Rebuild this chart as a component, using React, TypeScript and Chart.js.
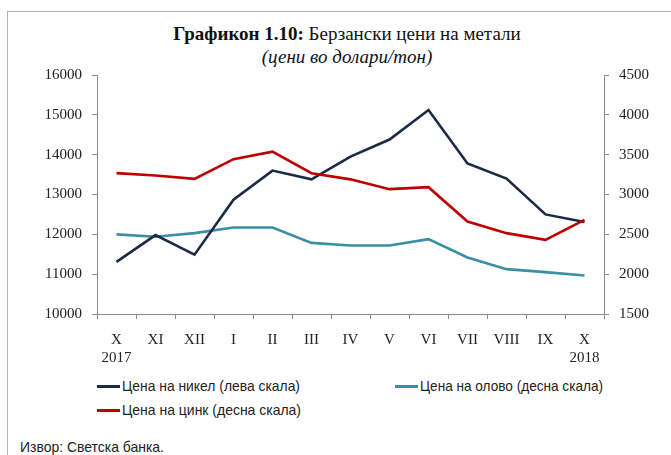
import React, { useEffect, useLayoutEffect, useRef } from "react";
import { Chart, registerables } from "chart.js";

Chart.register(...registerables);

const months = [
  ["X", "2017"], ["XI"], ["XII"], ["I"], ["II"], ["III"], ["IV"], ["V"], ["VI"], ["VII"], ["VIII"], ["IX"], ["X", "2018"],
];
const nickel = [11310, 11980, 11490, 12870, 13600, 13380, 13950, 14380, 15120, 13780, 13400, 12500, 12310];
const tin = [2500, 2470, 2515, 2585, 2585, 2393, 2360, 2360, 2440, 2209, 2063, 2026, 1983];
const zinc = [3268, 3238, 3196, 3443, 3538, 3267, 3190, 3067, 3092, 2660, 2515, 2431, 2682];

const leftTicks = { min: 10000, max: 16000, step: 1000 };
const rightTicks = { min: 1500, max: 4500, step: 500 };

const NAVY = "#1b2b45";
const TEAL = "#3b8fa3";
const RED = "#c00000";
const AXIS = "#8c8c8c";
const serif = "'Liberation Serif', 'DejaVu Serif', serif";
const sans = "'Liberation Sans', 'DejaVu Sans', sans-serif";

function FitText({ text, width, left, top, size }: { text: string; width: number; left: number; top: number; size: number }) {
  const r = useRef<HTMLSpanElement>(null);
  useLayoutEffect(() => {
    const el = r.current;
    if (!el) return;
    el.style.transform = "none";
    const w = el.getBoundingClientRect().width;
    if (w > 0) el.style.transform = `scaleX(${width / w})`;
  }, [text, width]);
  return (
    <span
      ref={r}
      style={{ position: "absolute", left, top, fontFamily: sans, fontSize: size, color: "#222", lineHeight: "18px", whiteSpace: "nowrap", transformOrigin: "0 0", display: "inline-block" }}
    >
      {text}
    </span>
  );
}

export default function App() {
  const ref = useRef<HTMLCanvasElement>(null);
  useEffect(() => {
    if (!ref.current) return;
    const tickFont = { family: serif, size: 15 };
    const chart = new Chart(ref.current, {
      type: "line",
      data: {
        labels: months,
        datasets: [
          { label: "Цена на никел (лева скала)", data: nickel, borderColor: NAVY, backgroundColor: NAVY, yAxisID: "y", order: 1 },
          { label: "Цена на олово (десна скала)", data: tin, borderColor: TEAL, backgroundColor: TEAL, yAxisID: "y1", order: 2 },
          { label: "Цена на цинк (десна скала)", data: zinc, borderColor: RED, backgroundColor: RED, yAxisID: "y1", order: 0 },
        ],
      },
      options: {
        animation: false,
        responsive: false,
        maintainAspectRatio: false,
        elements: { line: { borderWidth: 2.6, tension: 0 }, point: { radius: 0 } },
        layout: { padding: { top: 15, left: 0, right: 0, bottom: 0 } },
        plugins: { legend: { display: false }, title: { display: false }, tooltip: { enabled: false } },
        scales: {
          x: {
            offset: true,
            grid: { display: true, offset: true, drawOnChartArea: false, tickLength: 5, color: AXIS },
            border: { color: AXIS },
            ticks: { font: tickFont, color: "#222", padding: 12, maxRotation: 0, autoSkip: false },
            afterFit: (s: any) => { s.height = 56; },
          },
          y: {
            position: "left",
            min: leftTicks.min,
            max: leftTicks.max,
            grid: { display: true, drawOnChartArea: false, tickLength: 5, color: AXIS },
            border: { color: AXIS },
            ticks: { stepSize: leftTicks.step, font: tickFont, color: "#222", padding: 10, callback: (v: any) => String(v) },
            afterFit: (s: any) => { s.width = 97; s.paddingTop = 0; },
          },
          y1: {
            position: "right",
            min: rightTicks.min,
            max: rightTicks.max,
            grid: { display: true, drawOnChartArea: false, tickLength: 5, color: AXIS },
            border: { color: AXIS },
            ticks: { stepSize: rightTicks.step, font: tickFont, color: "#222", padding: 10, callback: (v: any) => String(v) },
            afterFit: (s: any) => { s.width = 67; s.paddingTop = 0; },
          },
        },
      },
    });
    return () => chart.destroy();
  }, []);

  const swatch = (color: string, left: number, top: number) => (
    <div style={{ position: "absolute", left, top, width: 23, height: 3, background: color }} />
  );

  return (
    <div style={{ position: "absolute", left: 0, top: 0, width: 671, height: 455, overflow: "hidden", background: "#fff" }}>
      <div style={{ position: "absolute", left: 7, top: 11, width: 700, height: 500, border: "1px solid #b4b4b4" }} />
      <div style={{ position: "absolute", left: 0, top: 23, width: 694, textAlign: "center", fontFamily: serif, fontSize: 19, color: "#111", lineHeight: "22px", whiteSpace: "nowrap" }}>
        <b>Графикон 1.10:</b> Берзански цени на метали
      </div>
      <div style={{ position: "absolute", left: 0, top: 46, width: 694, textAlign: "center", fontFamily: serif, fontSize: 19, color: "#111", lineHeight: "22px", fontStyle: "italic" }}>
        (цени во долари/тон)
      </div>
      <canvas ref={ref} width={671} height={310} style={{ position: "absolute", left: 0, top: 60, width: 671, height: 310 }} />
      {swatch(NAVY, 97, 385)}
      <FitText text="Цена на никел (лева скала)" width={178} left={122} top={377} size={15} />
      {swatch(TEAL, 395, 385)}
      <FitText text="Цена на олово (десна скала)" width={183} left={420} top={377} size={15} />
      {swatch(RED, 97, 409)}
      <FitText text="Цена на цинк (десна скала)" width={179} left={122} top={401} size={15} />
      <FitText text="Извор: Светска банка." width={144} left={20} top={438} size={15} />
    </div>
  );
}
